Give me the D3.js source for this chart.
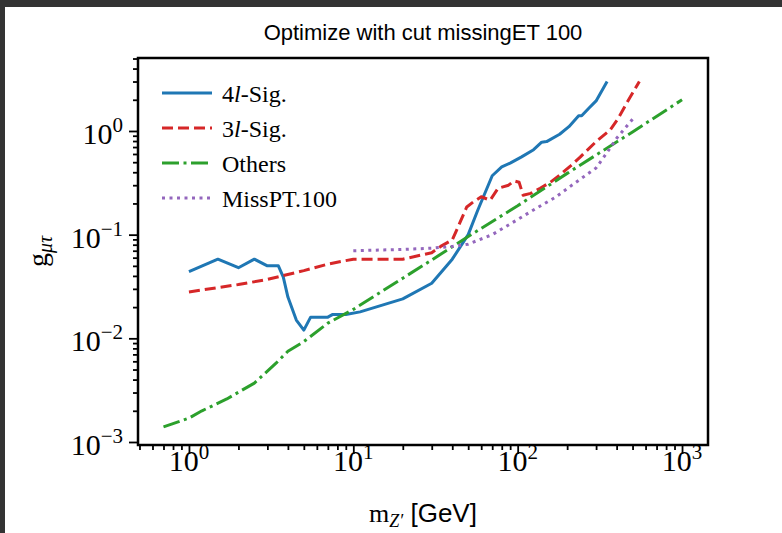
<!DOCTYPE html>
<html>
<head>
<meta charset="utf-8">
<script src="https://cdn.jsdelivr.net/npm/d3@7"></script>
<style>
  body { margin: 0; background: #333; }
  svg { display: block; }
</style>
</head>
<body>
<div id="chart"></div>
<script>
const W = 782, H = 533;

// series: [mass GeV, coupling]
const sig4l = [[1,0.044],[1.5,0.058],[2,0.048],[2.5,0.058],[3,0.05],[3.5,0.05],[3.75,0.039],[4,0.025],
  [4.5,0.015],[5,0.012],[5.5,0.016],[7,0.016],[7.5,0.017],[9,0.017],[11,0.018],[20,0.024],[30,0.034],
  [40,0.058],[50,0.1],[57,0.17],[70,0.37],[80,0.45],[90,0.49],[105,0.56],[125,0.66],[140,0.78],
  [150,0.79],[180,0.93],[205,1.1],[235,1.4],[245,1.4],[270,1.65],[300,1.95],[350,3.0]];
const sig3l = [[1,0.028],[2,0.033],[3,0.037],[5,0.045],[7,0.052],[10,0.058],[20,0.058],[30,0.067],
  [34,0.077],[40,0.089],[44,0.125],[49,0.185],[54,0.208],[60,0.232],[68,0.215],[76,0.28],[88,0.3],
  [95,0.33],[102,0.32],[108,0.24],[120,0.25],[137,0.28],[158,0.32],[180,0.375],[210,0.46],[240,0.56],
  [300,0.79],[365,1.02],[410,1.33],[460,1.85],[550,3.0]];
const others = [[0.7,0.0014],[1,0.0017],[1.2,0.002],[1.7,0.0026],[2.5,0.0037],[3.4,0.0058],[4,0.0075],
  [5,0.0093],[7,0.014],[10,0.019],[20,0.038],[30,0.057],[50,0.096],[100,0.19],[200,0.39],[500,0.98],[1000,2.0]];
const missPT = [[10,0.07],[20,0.072],[30,0.074],[40,0.077],[50,0.081],[70,0.1],[100,0.14],[130,0.18],
  [170,0.23],[220,0.31],[300,0.44],[350,0.62],[400,0.85],[500,1.3]];

const seriesNames = ["4l-Sig.", "3l-Sig.", "Others", "MissPT.100"];
const xMajor = [1, 10, 100, 1000];
const yMajor = [1e-3, 1e-2, 1e-1, 1];
const xExp = ["0", "1", "2", "3"];
const yExp = ["\u22123", "\u22122", "\u22121", "0"];

const styles = [
  {color: "#1f77b4", dash: null},
  {color: "#d62728", dash: "11,5"},
  {color: "#2ca02c", dash: "17,4.5,3,4.5"},
  {color: "#9467bd", dash: "3,4.5"}
];
const allSeries = [sig4l, sig3l, others, missPT];

const pL = 138, pR = 708, pT = 58, pB = 445;

const x = d3.scaleLog().domain([Math.pow(10, -0.310), Math.pow(10, 3.158)]).range([pL, pR]);
const y = d3.scaleLog().domain([Math.pow(10, -3.029), Math.pow(10, 0.704)]).range([pB, pT]);

const svg = d3.select("#chart").append("svg").attr("width", W).attr("height", H);
svg.append("rect").attr("width", W).attr("height", H).attr("fill", "#333");
svg.append("rect").attr("x", 5).attr("y", 7).attr("width", W - 5).attr("height", H - 7).attr("fill", "white");

svg.append("clipPath").attr("id", "clip")
  .append("rect").attr("x", pL).attr("y", pT).attr("width", pR - pL).attr("height", pB - pT);

// minor ticks
function minors(lo, hi) {
  let out = [];
  for (let e = lo; e <= hi; e++)
    for (let m = 2; m <= 9; m++) out.push(m * Math.pow(10, e));
  return out;
}
const xMinor = minors(-1, 3).filter(v => v > x.domain()[0] && v < x.domain()[1]);
const yMinor = minors(-4, 0).filter(v => v > y.domain()[0] && v < y.domain()[1]);

const gx = svg.append("g").attr("transform", "translate(0," + pB + ")");
gx.call(d3.axisBottom(x).tickValues(xMinor).tickSize(5).tickSizeOuter(0).tickFormat(""));
gx.append("g").call(d3.axisBottom(x).tickValues(xMajor).tickSize(9).tickSizeOuter(0).tickFormat(""));
const gy = svg.append("g").attr("transform", "translate(" + pL + ",0)");
gy.call(d3.axisLeft(y).tickValues(yMinor).tickSize(5).tickSizeOuter(0).tickFormat(""));
gy.append("g").call(d3.axisLeft(y).tickValues(yMajor).tickSize(9).tickSizeOuter(0).tickFormat(""));
svg.selectAll(".domain").remove();
svg.selectAll(".tick line").attr("stroke", "black").attr("stroke-width", 1.8);

// tick labels
const serif = "'Liberation Serif', 'Times New Roman', serif";
const sans = "'Liberation Sans', Arial, sans-serif";
xMajor.forEach(function(v, i) {
  const t = svg.append("text").attr("x", x(v)).attr("y", 471)
    .attr("text-anchor", "middle").attr("font-family", serif).attr("font-size", 30);
  t.append("tspan").text("10");
  t.append("tspan").attr("dy", -12).attr("font-size", 21).text(xExp[i]);
});
yMajor.forEach(function(v, i) {
  const t = svg.append("text").attr("x", 123).attr("y", y(v) + 13)
    .attr("text-anchor", "end").attr("font-family", serif).attr("font-size", 30);
  t.append("tspan").text("10");
  t.append("tspan").attr("dy", -12).attr("font-size", 21).text(yExp[i]);
});

// lines
const line = d3.line().x(d => x(d[0])).y(d => y(d[1]));
const plot = svg.append("g").attr("clip-path", "url(#clip)");
allSeries.forEach(function(s, i) {
  plot.append("path").datum(s)
    .attr("d", line)
    .attr("fill", "none")
    .attr("stroke", styles[i].color)
    .attr("stroke-width", 3)
    .attr("stroke-dasharray", styles[i].dash)
    .attr("stroke-linejoin", "round");
});

// frame
svg.append("rect").attr("x", pL).attr("y", pT).attr("width", pR - pL).attr("height", pB - pT)
  .attr("fill", "none").attr("stroke", "black").attr("stroke-width", 2.5);

// legend
seriesNames.forEach(function(name, i) {
  const ly = 93 + i * 35;
  svg.append("line").attr("x1", 162).attr("x2", 212).attr("y1", ly).attr("y2", ly)
    .attr("stroke", styles[i].color).attr("stroke-width", 3)
    .attr("stroke-dasharray", styles[i].dash);
  const t = svg.append("text").attr("x", 222).attr("y", ly + 9)
    .attr("font-family", serif).attr("font-size", 24);
  if (i < 2) {
    t.append("tspan").text(name[0]);
    t.append("tspan").attr("font-style", "italic").text("l");
    t.append("tspan").text(name.slice(2));
  } else {
    t.text(name);
  }
});

// title
svg.append("text").attr("x", (pL + pR) / 2).attr("y", 40)
  .attr("text-anchor", "middle").attr("font-family", sans)
  .attr("font-size", 22).text("Optimize with cut missingET 100");

// x label
const xl = svg.append("text").attr("x", (pL + pR) / 2).attr("y", 522)
  .attr("text-anchor", "middle").attr("font-size", 26);
xl.append("tspan").attr("font-family", serif).text("m");
xl.append("tspan").attr("font-family", serif).attr("font-style", "italic")
  .attr("font-size", 18).attr("dy", 5).text("Z\u2032");
xl.append("tspan").attr("font-family", sans)
  .attr("dy", -5).text(" [GeV]");

// y label
const yl = svg.append("text").attr("transform", "translate(47," + ((pT + pB) / 2) + ") rotate(-90)")
  .attr("text-anchor", "middle").attr("font-family", serif).attr("font-size", 28);
yl.append("tspan").text("g");
yl.append("tspan").attr("font-style", "italic").attr("font-size", 20).attr("dy", 5).text("\u03bc\u03c4");
</script>
</body>
</html>
